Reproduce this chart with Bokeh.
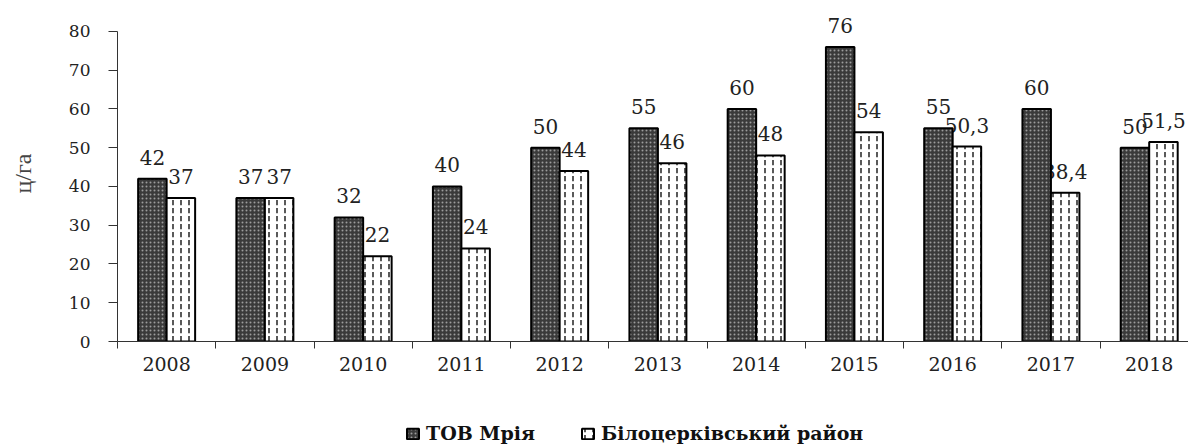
from bokeh.plotting import figure
from bokeh.layouts import column
from bokeh.models import FixedTicker, Legend, LegendItem, Range1d
from bokeh.embed import file_html
from bokeh.resources import INLINE
from bokeh.core.properties import value

years = ["2008", "2009", "2010", "2011", "2012", "2013", "2014", "2015", "2016", "2017", "2018"]
mriya = [42, 37, 32, 40, 50, 55, 60, 76, 55, 60, 50]
district = [37, 37, 22, 24, 44, 46, 48, 54, 50.3, 38.4, 51.5]
mriya_labels = ["42", "37", "32", "40", "50", "55", "60", "76", "55", "60", "50"]
district_labels = ["37", "37", "22", "24", "44", "46", "48", "54", "50,3", "38,4", "51,5"]
series_names = ["ТОВ Мрія", "Білоцерківський район"]
y_ticks = [0, 10, 20, 30, 40, 50, 60, 70, 80]
y_title = "ц/га"

SERIF = "DejaVu Serif"
idx = list(range(len(years)))
off = 0.145
x_dark = [i - off for i in idx]
x_light = [i + off for i in idx]

dark_style = dict(fill_color="#3a3a3a", hatch_pattern="dot", hatch_color="#9c9c9c",
                  hatch_scale=4, hatch_weight=1.2, line_color="black", line_width=2)
light_style = dict(fill_color="white", hatch_pattern="vertical_dash", hatch_color="black",
                   hatch_scale=8, hatch_weight=1.3, line_color="black", line_width=2)

p = figure(width=1188, height=400, output_backend="svg", toolbar_location=None,
           x_range=Range1d(-0.5, 10.4), y_range=Range1d(0, 86.7),
           min_border_left=117, min_border_right=0, min_border_top=5, min_border_bottom=59)
p.xgrid.visible = False
p.ygrid.visible = False
p.outline_line_color = None
p.background_fill_color = "white"
p.border_fill_color = "white"

# labels drawn first so that bars cover them where they overlap (as in the reference)
p.text(x=x_dark, y=mriya, text=mriya_labels, text_align="center", text_baseline="bottom",
       y_offset=-14, text_font=value(SERIF), text_font_size="20px", text_color="#222222")
p.text(x=x_light, y=district, text=district_labels, text_align="center", text_baseline="bottom",
       y_offset=-14, text_font=value(SERIF), text_font_size="20px", text_color="#222222")

p.vbar(x=x_dark, top=mriya, bottom=0, width=0.29, **dark_style)
p.vbar(x=x_light, top=district, bottom=0, width=0.29, **light_style)

# y axis
ya = p.yaxis[0]
ya.ticker = FixedTicker(ticks=y_ticks, minor_ticks=[])
ya.bounds = (0, 80)
ya.major_tick_out = 9
ya.major_tick_in = 0
ya.major_label_standoff = 18
ya.major_label_text_font = SERIF
ya.major_label_text_font_size = "17px"
ya.major_label_text_color = "#222222"
ya.axis_line_color = "#333333"
ya.major_tick_line_color = "#333333"
ya.axis_label = y_title
ya.axis_label_text_font = "Liberation Serif"
ya.axis_label_text_font_style = "normal"
ya.axis_label_text_font_size = "24px"
ya.axis_label_standoff = 30

# x axis
xa = p.xaxis[0]
xa.ticker = FixedTicker(ticks=idx, minor_ticks=[i - 0.5 for i in range(len(years) + 1)])
xa.major_label_overrides = {i: y for i, y in zip(idx, years)}
xa.major_tick_out = 0
xa.major_tick_in = 0
xa.minor_tick_out = 7
xa.minor_tick_in = 0
xa.minor_tick_line_color = "#333333"
xa.axis_line_color = "#333333"
xa.major_label_standoff = 8
xa.major_label_text_font = SERIF
xa.major_label_text_font_size = "19px"
xa.major_label_text_color = "#222222"

# legend strip below the chart
p2 = figure(width=1188, height=46, output_backend="svg", toolbar_location=None,
            x_range=Range1d(0, 1), y_range=Range1d(0, 1),
            x_axis_type=None, y_axis_type=None,
            min_border_left=0, min_border_right=0, min_border_top=0, min_border_bottom=0)
p2.xgrid.visible = False
p2.ygrid.visible = False
p2.outline_line_color = None
p2.border_fill_color = "white"
# empty stand-in bars (no drawable value), only used to draw the legend swatches
l1 = p2.vbar(x=[0.5], top=[float("nan")], bottom=[float("nan")], width=0.1, **dark_style)
l2 = p2.vbar(x=[0.5], top=[float("nan")], bottom=[float("nan")], width=0.1, **light_style)

legend = Legend(items=[LegendItem(label=series_names[0], renderers=[l1]),
                       LegendItem(label=series_names[1], renderers=[l2])],
                orientation="horizontal", location=(288, 2),
                border_line_color=None, background_fill_alpha=0,
                label_text_font="DejaVu Serif, serif", label_text_font_style="bold",
                label_text_font_size="19px", label_text_color="#111111",
                glyph_width=15, glyph_height=13, spacing=45, padding=0,
                label_standoff=6, margin=0)
p2.add_layout(legend, "center")

layout = column(p, p2, spacing=0)
open("out.html", "w").write(file_html(layout, INLINE))
